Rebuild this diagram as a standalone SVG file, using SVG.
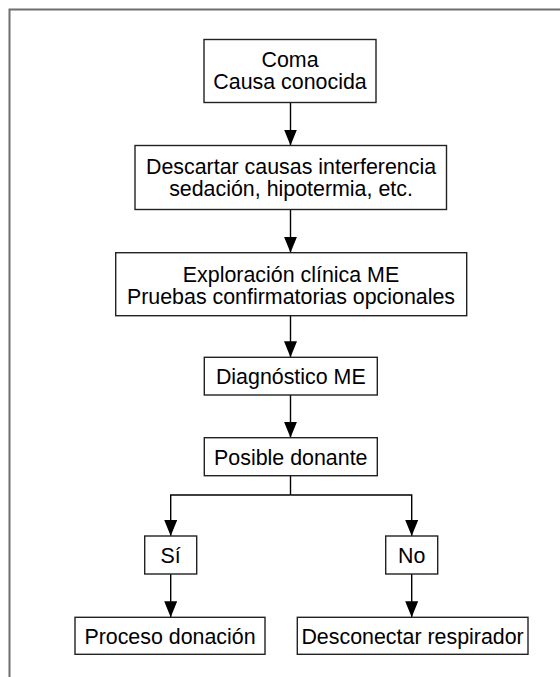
<svg xmlns="http://www.w3.org/2000/svg" width="560" height="677" viewBox="0 0 560 677">
<style>
.box{fill:#fff;stroke:#222;stroke-width:1.4}
.t{font-family:"Liberation Sans",Arial,Helvetica,sans-serif;font-size:21.4px;fill:#000;text-anchor:middle}
.c{fill:none;stroke:#000;stroke-width:1.4}
</style>
<defs>
<marker id="ah" viewBox="0 0 16 13" refX="16" refY="6.5" markerWidth="16" markerHeight="13" markerUnits="userSpaceOnUse" orient="auto">
<path d="M0,0 L16,6.5 L0,13 z" fill="#000"/>
</marker>
</defs>
<rect width="560" height="677" fill="#fff"/>
<path d="M9.5,677 V9.5 H560" fill="none" stroke="#6e6e6e" stroke-width="2"/>
<g id="connectors">
<path class="c" d="M290.5,102.5 V145.5" marker-end="url(#ah)"/>
<path class="c" d="M290.5,209.5 V252.7" marker-end="url(#ah)"/>
<path class="c" d="M290.5,315.7 V357.3" marker-end="url(#ah)"/>
<path class="c" d="M290.5,395 V437.7" marker-end="url(#ah)"/>
<path class="c" d="M290.5,475.7 V495"/>
<path class="c" d="M290.5,495 H170.7 V536" marker-end="url(#ah)"/>
<path class="c" d="M290.5,495 H411.7 V536" marker-end="url(#ah)"/>
<path class="c" d="M170.7,574 V617.3" marker-end="url(#ah)"/>
<path class="c" d="M411.7,574 V617.3" marker-end="url(#ah)"/>
</g>
<g id="n1"><rect class="box" x="204" y="39.5" width="172" height="63"/><text class="t" x="290" y="67">Coma</text><text class="t" x="290" y="89">Causa conocida</text></g>
<g id="n2"><rect class="box" x="135" y="145.5" width="311.5" height="64"/><text class="t" x="291" y="173.5">Descartar causas interferencia</text><text class="t" x="291" y="195.5">sedación, hipotermia, etc.</text></g>
<g id="n3"><rect class="box" x="115.7" y="252.7" width="351" height="63"/><text class="t" x="291" y="281.5">Exploración clínica ME</text><text class="t" x="291" y="304">Pruebas confirmatorias opcionales</text></g>
<g id="n4"><rect class="box" x="204.3" y="357.3" width="173" height="37.7"/><text class="t" x="290.8" y="384">Diagnóstico ME</text></g>
<g id="n5"><rect class="box" x="204.3" y="437.7" width="173" height="38"/><text class="t" x="290.8" y="464.5">Posible donante</text></g>
<g id="n6"><rect class="box" x="144.7" y="536" width="52" height="38"/><text class="t" x="170.7" y="562.5">Sí</text></g>
<g id="n7"><rect class="box" x="385.7" y="536" width="52" height="38"/><text class="t" x="411.7" y="562.5">No</text></g>
<g id="n8"><rect class="box" x="75" y="617.3" width="190" height="37"/><text class="t" x="170" y="643.5">Proceso donación</text></g>
<g id="n9"><rect class="box" x="297.3" y="617.3" width="230.7" height="37"/><text class="t" x="412.6" y="643.5">Desconectar respirador</text></g>
</svg>
